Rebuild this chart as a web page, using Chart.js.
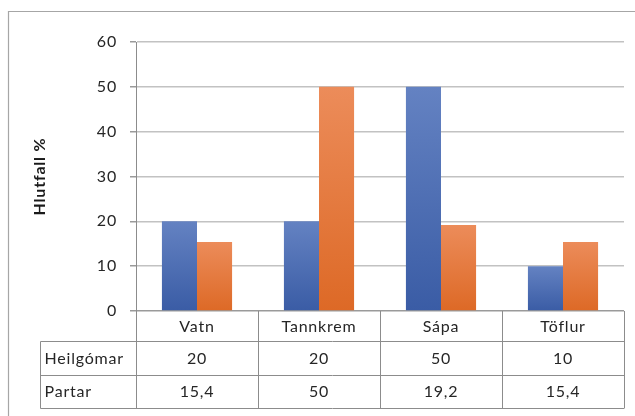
<!DOCTYPE html>
<html>
<head>
<meta charset="utf-8">
<script src="https://cdn.jsdelivr.net/npm/chart.js@4.4.1/dist/chart.umd.min.js"></script>
<style>
  html, body { margin: 0; padding: 0; background: #fff; }
  canvas { display: block; }
</style>
</head>
<body>
<canvas id="c" width="635" height="416"></canvas>
<script>
// Chart data
const categories = ['Vatn', 'Tannkrem', 'Sápa', 'Töflur'];
const seriesNames = ['Heilgómar', 'Partar'];
const heilgomar = [20, 20, 50, 10];
const partar = [15.4, 50, 19.2, 15.4];
const yTicks = [0, 10, 20, 30, 40, 50, 60];
const yTitle = 'Hlutfall %';

const FONT = 'Lato, "Noto Sans", sans-serif';
const TEXT = '#262626';
const LINE = '#8c8c8c';

// Vertical gradient spanning each bar from its top down to the base line
function barFill(topColor, bottomColor) {
  return (ctx) => {
    const chart = ctx.chart;
    const y = chart.scales && chart.scales.y;
    if (!y || ctx.type !== 'data' || ctx.raw == null) return bottomColor;
    const py = y.getPixelForValue(ctx.raw);
    const pb = y.getPixelForValue(0);
    if (!isFinite(py) || !isFinite(pb) || py === pb) return bottomColor;
    const g = chart.ctx.createLinearGradient(0, py, 0, pb);
    g.addColorStop(0, topColor);
    g.addColorStop(1, bottomColor);
    return g;
  };
}

const fmt = (v) => String(v).replace('.', ',');

// Frame around the chart and letter spacing for all canvas text
const framePlugin = {
  id: 'frame',
  beforeDraw(chart) {
    const ctx = chart.ctx;
    ctx.save();
    ctx.strokeStyle = '#a6a6a6';
    ctx.lineWidth = 1.2;
    ctx.beginPath();
    ctx.moveTo(8.5, chart.height);
    ctx.lineTo(8.5, 11.5);
    ctx.lineTo(chart.width, 11.5);
    ctx.stroke();
    ctx.restore();
    ctx.letterSpacing = '0.8px';
  }
};

// Data table under the plot, aligned to the category scale
const tablePlugin = {
  id: 'dataTable',
  afterDraw(chart) {
    const { ctx, scales: { x, y } } = chart;
    const n = categories.length;
    const step = x.getPixelForValue(1) - x.getPixelForValue(0);
    const edges = categories.map((_, i) => x.getPixelForValue(i) - step / 2);
    edges.push(x.getPixelForValue(n - 1) + step / 2);
    const top = y.getPixelForValue(0);
    const headH = 30;
    const rowH = 33.5;
    const tableLeft = 40.5;
    const rows = [heilgomar, partar];
    const bottom = top + headH + rowH * rows.length;

    ctx.save();
    ctx.strokeStyle = LINE;
    ctx.lineWidth = 1;
    ctx.beginPath();
    edges.forEach((ex) => {
      const px = Math.round(ex) + 0.5;
      ctx.moveTo(px, top);
      ctx.lineTo(px, bottom);
    });
    for (let r = 0; r <= rows.length; r++) {
      const py = Math.round(top + headH + r * rowH) + 0.5;
      ctx.moveTo(tableLeft, py);
      ctx.lineTo(Math.round(edges[n]) + 0.5, py);
    }
    ctx.moveTo(tableLeft, Math.round(top + headH) + 0.5);
    ctx.lineTo(tableLeft, Math.round(bottom) + 0.5);
    ctx.stroke();

    ctx.fillStyle = TEXT;
    ctx.font = '16px ' + FONT;
    ctx.letterSpacing = '0.8px';
    ctx.textBaseline = 'middle';
    ctx.textAlign = 'center';
    categories.forEach((c, i) => {
      ctx.fillText(c, x.getPixelForValue(i), top + headH / 2 + 1);
    });
    rows.forEach((vals, r) => {
      const cy = top + headH + r * rowH + rowH / 2 + 1;
      ctx.textAlign = 'left';
      ctx.fillText(seriesNames[r], tableLeft + 4, cy);
      ctx.textAlign = 'center';
      vals.forEach((v, i) => ctx.fillText(fmt(v), x.getPixelForValue(i), cy));
    });
    ctx.restore();
  }
};

new Chart(document.getElementById('c'), {
  type: 'bar',
  data: {
    labels: categories,
    datasets: [
      {
        label: seriesNames[0],
        data: heilgomar,
        backgroundColor: barFill('#6482c2', '#3a5ca5'),
        borderWidth: 0
      },
      {
        label: seriesNames[1],
        data: partar,
        backgroundColor: barFill('#ec8c5a', '#dd6926'),
        borderWidth: 0
      }
    ]
  },
  options: {
    responsive: false,
    animation: false,
    events: [],
    categoryPercentage: 0.575,
    barPercentage: 1,
    layout: { padding: { left: 0, top: 42, right: 11, bottom: 105 } },
    plugins: {
      legend: { display: false },
      tooltip: { enabled: false },
      title: { display: false }
    },
    scales: {
      x: { display: false },
      y: {
        min: yTicks[0],
        max: yTicks[yTicks.length - 1],
        afterFit: (scale) => { scale.width = 136; },
        afterBuildTicks: (scale) => { scale.ticks = yTicks.map((v) => ({ value: v })); },
        ticks: {
          color: TEXT,
          padding: 13,
          font: { family: FONT, size: 16 }
        },
        grid: {
          color: (c) => (c.tick && c.tick.value === 0 ? '#9a9a9a' : '#c2c2c2'),
          lineWidth: 1.5,
          tickLength: 6,
          tickColor: '#9a9a9a',
          drawTicks: true
        },
        border: { display: true, color: '#8c8c8c', width: 1 },
        title: {
          display: true,
          text: yTitle,
          color: '#1a1a1a',
          font: { family: FONT, size: 16, weight: 'bold' },
          padding: { top: 30, bottom: 0 }
        }
      }
    }
  },
  plugins: [framePlugin, tablePlugin]
});
</script>
</body>
</html>
